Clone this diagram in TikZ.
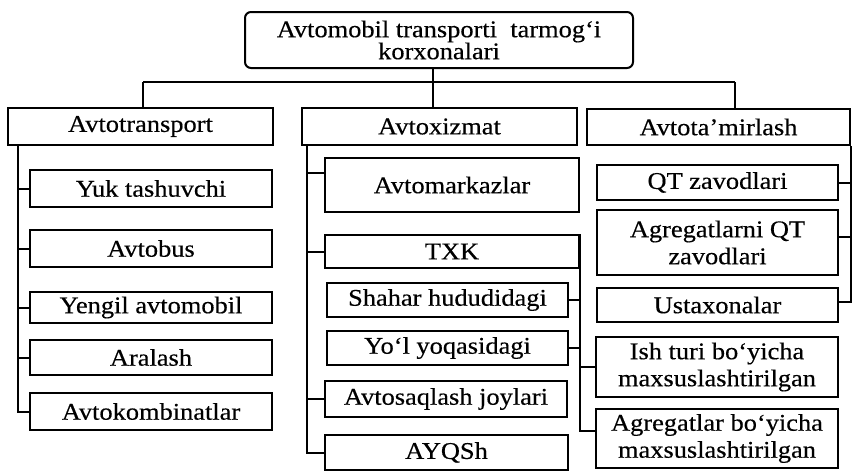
\documentclass[tikz,border=0pt]{standalone}
\usepackage{fontspec}
\setmainfont{Liberation Serif}[FakeStretch=1.1,FakeBold=0.4]

\begin{document}
\begin{tikzpicture}[x=1pt,y=-1pt,font=\fontsize{24}{27}\selectfont,
 box/.style={draw,line width=2pt,inner sep=0pt,align=center},
 link/.style={line width=2pt}]
\useasboundingbox (0,0) rectangle (852,471);
% root and first level
\node[box,rounded corners=6pt,minimum width=388pt,minimum height=56pt] (top) at (439,40) {Avtomobil transporti\ \ tarmog‘i\\[-5pt]korxonalari};
\node[box,minimum width=265pt,minimum height=37pt] (atr) at (140.5,126.5) {Avtotransport};
\node[box,minimum width=275pt,minimum height=37pt] (axz) at (439.5,126.5) {Avtoxizmat};
\node[box,minimum width=263pt,minimum height=36pt] (atm) at (718.5,127) {Avtota’mirlash};
% Avtotransport
\node[box,minimum width=242pt,minimum height=37pt] (yuk) at (151,188.5) {Yuk tashuvchi};
\node[box,minimum width=242pt,minimum height=37pt] (bus) at (151,248.5) {Avtobus};
\node[box,minimum width=242pt,minimum height=31pt] (yen) at (151,307.5) {Yengil avtomobil};
\node[box,minimum width=242pt,minimum height=35pt] (ara) at (151,357.5) {Aralash};
\node[box,minimum width=242pt,minimum height=37pt] (akb) at (151,411.5) {Avtokombinatlar};
% Avtoxizmat
\node[box,minimum width=254pt,minimum height=54pt] (amk) at (452,185) {Avtomarkazlar};
\node[box,minimum width=254pt,minimum height=33pt] (txk) at (452,251.5) {TXK};
\node[box,minimum width=241pt,minimum height=34pt] (shh) at (447.5,300) {Shahar hududidagi};
\node[box,minimum width=241pt,minimum height=34pt] (yol) at (447.5,348) {Yo‘l yoqasidagi};
\node[box,minimum width=242pt,minimum height=36pt] (asq) at (446,399) {Avtosaqlash\ joylari};
\node[box,minimum width=243pt,minimum height=35pt] (ayq) at (446.5,452.5) {AYQSh};
% Avtota'mirlash
\node[box,minimum width=241pt,minimum height=35pt] (qtz) at (717.5,182.5) {QT zavodlari};
\node[box,minimum width=241pt,minimum height=65pt] (aqt) at (717.5,242.5) {Agregatlarni QT\\zavodlari};
\node[box,minimum width=241pt,minimum height=34pt] (ust) at (717.5,305) {Ustaxonalar};
\node[box,minimum width=242pt,minimum height=60pt] (ish) at (717,367) {Ish turi bo‘yicha\\maxsuslashtirilgan};
\node[box,minimum width=242pt,minimum height=59pt] (agb) at (717,438.5) {Agregatlar bo‘yicha\\maxsuslashtirilgan};
% bus under the root
\coordinate (busL) at (143,82);
\coordinate (busM) at (433,82);
\coordinate (busR) at (735,82);
\draw[link] (busL) -- (busR);
\draw[link] (busL) -- (busL |- atr.north);
\draw[link] (busR) -- (busR |- atm.north);
\draw[link] (top.south -| busM) -- (busM |- axz.north);
% left trunk
\coordinate (trL) at (18,0);
\draw[link] (trL |- atr.south) |- (akb.west);
\foreach \n in {yuk,bus,yen,ara} \draw[link] (trL |- \n.west) -- (\n.west);
% middle trunk
\coordinate (trM) at (307,0);
\coordinate (amkIn) at ([yshift=12pt]amk.west);
\draw[link] (trM |- axz.south) |- (ayq.west);
\draw[link] (trM |- amkIn) -- (amkIn);
\foreach \n in {txk,asq} \draw[link] (trM |- \n.west) -- (\n.west);
% line on the right of TXK
\coordinate (agbIn) at ([yshift=8pt]agb.west);
\draw[link] (txk.north east) |- (agbIn);
\foreach \n in {shh,yol} \draw[link] (\n.east) -- (txk.east |- \n.east);
\draw[link] (txk.east |- ish.west) -- (ish.west);
% right trunk
\coordinate (aqtIn) at ([yshift=6pt]aqt.east);
\coordinate (ustIn) at ([yshift=3pt]ust.east);
\draw[link] (atm.south east) |- (ustIn);
\draw[link] (qtz.east) -- (atm.east |- qtz.east);
\draw[link] (aqtIn) -- (atm.east |- aqtIn);
\end{tikzpicture}
\end{document}
